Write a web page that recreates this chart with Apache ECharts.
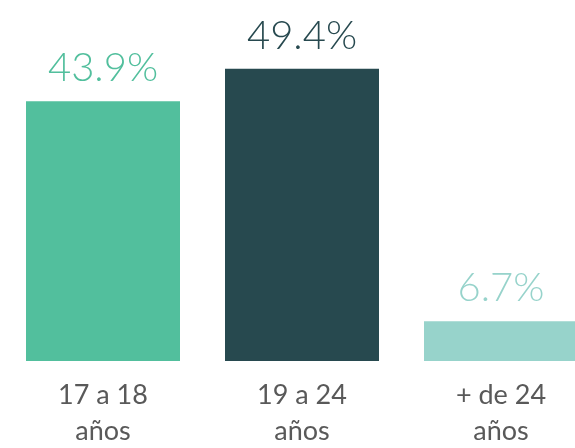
<!DOCTYPE html>
<html>
<head>
<meta charset="utf-8">
<style>
    html, body { margin: 0; padding: 0; background: #fff; }
    #chart { width: 575px; height: 448px; }
</style>
<script src="https://cdn.jsdelivr.net/npm/echarts@6/dist/echarts.min.js"></script>
</head>
<body>
<div id="chart"></div>
<script>
const categories = ["17 a 18\naños", "19 a 24\naños", "+ de 24\naños"]
const values = [43.9, 49.4, 6.7]
const colors = ["#52bf9d", "#27494f", "#97d3cb"]

const chart = echarts.init(document.getElementById("chart"))

const option = {
    animation: false,
    grid: {
        left: 3.5,
        width: 597,
        top: 6,
        bottom: 87,
        outerBoundsMode: "none",
        containLabel: false,
    },
    xAxis: {
        type: "category",
        data: categories,
        axisLine: { show: false },
        axisTick: { show: false },
        axisLabel: {
            margin: 16,
            interval: 0,
            color: "#595959",
            fontFamily: "Lato",
            fontSize: 27,
            lineHeight: 36,
        },
    },
    yAxis: {
        type: "value",
        min: 0,
        max: 60,
        show: false,
    },
    series: [
        {
            type: "bar",
            barWidth: 154,
            data: values.map((v, i) => ({
                value: v,
                itemStyle: { color: colors[i] },
                label: { color: colors[i] },
            })),
            label: {
                show: true,
                position: "top",
                distance: 13,
                fontFamily: "Lato",
                fontWeight: 300,
                fontSize: 40,
                formatter: (p) => p.value.toFixed(1) + "%",
            },
        },
    ],
}

chart.setOption(option)
</script>
</body>
</html>
